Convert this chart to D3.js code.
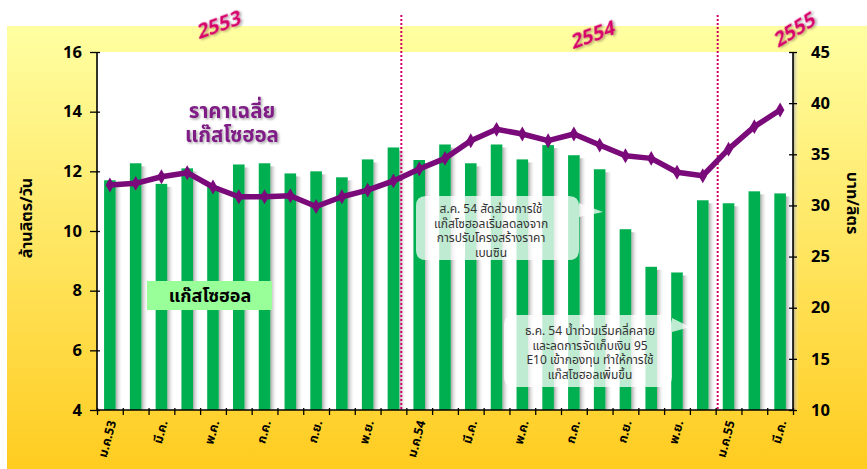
<!DOCTYPE html>
<html><head><meta charset="utf-8">
<script src="https://cdn.jsdelivr.net/npm/d3@7/dist/d3.min.js"></script>
<style>
html,body{margin:0;padding:0;background:#fff;}
svg{display:block;}
text{font-family:Tahoma,"Noto Sans Thai","Noto Sans","DejaVu Sans",sans-serif;}
</style></head>
<body>
<svg id="c" width="867" height="469"></svg>
<script>
// ---- data ----
const months = ["ม.ค.53","ก.พ.","มี.ค.","เม.ย.","พ.ค.","มิ.ย.","ก.ค.","ส.ค.","ก.ย.","ต.ค.","พ.ย.","ธ.ค.",
                "ม.ค.54","ก.พ.","มี.ค.","เม.ย.","พ.ค.","มิ.ย.","ก.ค.","ส.ค.","ก.ย.","ต.ค.","พ.ย.","ธ.ค.",
                "ม.ค.55","ก.พ.","มี.ค."];
const volume = [11.7,12.27,11.58,12.1,11.5,12.23,12.27,11.93,12.0,11.8,12.4,12.8,
                12.38,12.9,12.27,12.9,12.4,12.88,12.54,12.07,10.06,8.8,8.61,11.03,
                10.93,11.33,11.26];
const price = [32.0,32.16,32.8,33.2,31.8,30.85,30.85,30.95,29.9,30.85,31.5,32.4,
               33.56,34.6,36.33,37.44,36.98,36.33,36.98,35.9,34.86,34.6,33.24,32.9,
               35.5,37.7,39.33];
const leftTicks = [4,6,8,10,12,14,16];
const rightTicks = [10,15,20,25,30,35,40,45];
const years = ["2553","2554","2555"];
const yearStart = [0,12,24];
const note1 = ["ส.ค. 54 สัดส่วนการใช้","แก๊สโซฮอลเริ่มลดลงจาก","การปรับโครงสร้างราคา","เบนซิน"];
const note2 = ["ธ.ค. 54 น้ำท่วมเริ่มคลี่คลาย","และลดการจัดเก็บเงิน 95","E10 เข้ากองทุน ทำให้การใช้","แก๊สโซฮอลเพิ่มขึ้น"];
const priceTitle = ["ราคาเฉลี่ย","แก๊สโซฮอล"];
const barLegend = "แก๊สโซฮอล";
const leftTitle = "ล้านลิตร/วัน";
const rightTitle = "บาท/ลิตร";

// ---- layout ----
const L=97, R=793, T=52, B=410;
const svg = d3.select("#c");
const defs = svg.append("defs");
const bg = defs.append("linearGradient").attr("id","bg").attr("x1",0).attr("y1",0).attr("x2",0).attr("y2",1);
bg.append("stop").attr("offset","0%").attr("stop-color","#ffffa2");
bg.append("stop").attr("offset","100%").attr("stop-color","#ffcc20");
const sh = defs.append("linearGradient").attr("id","sh").attr("x1",0).attr("y1",0).attr("x2",1).attr("y2",0);
sh.append("stop").attr("offset","0%").attr("stop-color","#8a8a8a").attr("stop-opacity",0.75);
sh.append("stop").attr("offset","100%").attr("stop-color","#ffffff").attr("stop-opacity",0);
const ds = defs.append("filter").attr("id","ds").attr("x","-20%").attr("y","-20%").attr("width","140%").attr("height","140%");
ds.append("feDropShadow").attr("dx",1.5).attr("dy",1.5).attr("stdDeviation",0.8).attr("flood-color","#000").attr("flood-opacity",0.35);

svg.append("rect").attr("width",867).attr("height",469).attr("fill","#fff");
svg.append("rect").attr("x",7).attr("y",26).attr("width",860).attr("height",443).attr("fill","url(#bg)");
svg.append("rect").attr("x",L).attr("y",T).attr("width",R-L).attr("height",B-T).attr("fill","#fff");
svg.append("rect").attr("x",R).attr("y",T).attr("width",6).attr("height",B-T).attr("fill","url(#sh)");

const x = d3.scaleBand().domain(d3.range(months.length)).range([L,R]).paddingInner(0.55).paddingOuter(0.275);
const xi = d3.scaleLinear().domain([0,months.length]).range([L,R]);
const yL = d3.scaleLinear().domain([4,16]).range([B,T]);
const yR = d3.scaleLinear().domain([10,45]).range([B,T]);
const bw = x.bandwidth();

// bars with shadow
const gb = svg.append("g");
gb.selectAll("rect.s").data(volume).join("rect").attr("class","s")
  .attr("x",(d,i)=>x(i)+bw).attr("y",d=>yL(d)+3).attr("width",7).attr("height",d=>B-yL(d)-3)
  .attr("fill","url(#sh)");
gb.selectAll("rect.b").data(volume).join("rect").attr("class","b")
  .attr("x",(d,i)=>x(i)).attr("y",d=>yL(d)).attr("width",bw).attr("height",d=>B-yL(d))
  .attr("fill","#00b050");

// year dividers
[yearStart[1],yearStart[2]].forEach((k,j)=>{
  const xx = j===0 ? xi(k)-5 : xi(k)+2;
  svg.append("line").attr("x1",xx).attr("x2",xx).attr("y1",15).attr("y2",B)
    .attr("stroke","#cc0066").attr("stroke-width",2).attr("stroke-dasharray","2,2");
});

// callouts
function callout(x0,y0,w,h,py,tipx,tipy,lines,cx,ly){
  const r=10, p1=py, p2=py+14;
  const path = `M${x0+r},${y0} H${x0+w-r} Q${x0+w},${y0} ${x0+w},${y0+r} V${p1} L${tipx},${tipy} L${x0+w},${p2} V${y0+h-r} Q${x0+w},${y0+h} ${x0+w-r},${y0+h} H${x0+r} Q${x0},${y0+h} ${x0},${y0+h-r} V${y0+r} Q${x0},${y0} ${x0+r},${y0} Z`;
  svg.append("path").attr("d",path).attr("fill","#fff").attr("fill-opacity",0.75);
  svg.append("g").selectAll("text").data(lines).join("text")
    .attr("x",cx).attr("y",(d,i)=>ly+i*14.5).attr("text-anchor","middle")
    .attr("font-size",12).attr("fill","#333").text(d=>d);
}
callout(416,196,163,64,203,603,212,note1,491,213);
callout(504,315,168,72,318,690,327,note2,590,335);

// price line
const line = d3.line().x((d,i)=>x(i)+bw/2).y(d=>yR(d));
svg.append("path").datum(price).attr("d",line).attr("fill","none")
  .attr("stroke","#7a0a7a").attr("stroke-width",5.5).attr("stroke-linejoin","round");
svg.append("g").selectAll("path").data(price).join("path")
  .attr("d",d3.symbol(d3.symbolDiamond,64))
  .attr("transform",(d,i)=>`translate(${x(i)+bw/2},${yR(d)})`)
  .attr("fill","#7a0a7a");

// axes
const axL = svg.append("g").attr("transform",`translate(${L},0)`)
  .call(d3.axisLeft(yL).tickValues(leftTicks).tickSize(6).tickPadding(9));
const axR = svg.append("g").attr("transform",`translate(${R},0)`)
  .call(d3.axisRight(yR).tickValues(rightTicks).tickSize(4).tickPadding(14));
const axB = svg.append("g").attr("transform",`translate(0,${B})`)
  .call(d3.axisBottom(xi).tickValues(d3.range(months.length+1)).tickFormat("").tickSize(5));
[axL,axR,axB].forEach(g=>{
  g.select(".domain").attr("stroke","#000").attr("stroke-width",1.6);
  g.selectAll(".tick line").attr("stroke","#000").attr("stroke-width",1.3);
  g.selectAll(".tick text").attr("font-family","'DejaVu Sans',sans-serif").attr("font-weight","bold")
    .attr("font-size",16.5).attr("fill","#000");
});
axL.selectAll(".tick line").attr("x2",-7).attr("x1",3);
axR.selectAll(".tick line").attr("x1",-4).attr("x2",4);
axB.selectAll(".tick line").attr("y1",-2);
axL.select(".domain").attr("d",`M0,${B}V${T}`);
axR.select(".domain").attr("d",`M0,${B}V${T}`);
axB.select(".domain").attr("d",`M${L},0H${R}`);

// x labels
svg.append("g").selectAll("text").data(months.map((m,i)=>({m,i})).filter(d=>d.i%2===0)).join("text")
  .attr("transform",d=>`translate(${x(d.i)+bw/2+3},${B+11}) rotate(-75)`)
  .attr("text-anchor","end").attr("dominant-baseline","middle")
  .attr("font-size",12.5).attr("font-weight","bold").attr("fill","#000").text(d=>d.m);

// axis titles
svg.append("text").attr("transform","translate(32,218) rotate(-90)").attr("text-anchor","middle")
  .attr("font-size",16).attr("font-weight","bold").attr("fill","#000").text(leftTitle);
svg.append("text").attr("transform","translate(847,203) rotate(90)").attr("text-anchor","middle")
  .attr("font-size",16).attr("font-weight","bold").attr("fill","#000").text(rightTitle);

// years
const yearPos = [[218,26],[592,36],[794,31]];
years.forEach((y,i)=>{
  svg.append("text").attr("transform",`translate(${yearPos[i][0]},${yearPos[i][1]}) rotate(${i===2?-32:-20})`)
    .attr("text-anchor","middle").attr("dominant-baseline","middle")
    .attr("font-size",20).attr("font-weight","bold").attr("font-style","italic")
    .attr("fill","#d6006a").attr("filter","url(#ds)").text(y);
});

// price title
svg.append("g").selectAll("text").data(priceTitle).join("text")
  .attr("x",232).attr("y",(d,i)=>118+i*24).attr("text-anchor","middle")
  .attr("font-size",20.5).attr("font-weight","bold").attr("fill","#7f1f86").attr("filter","url(#ds)").text(d=>d);

// bar legend
svg.append("rect").attr("x",147).attr("y",281).attr("width",125).attr("height",29).attr("fill","#99ff99");
svg.append("text").attr("x",210).attr("y",302).attr("text-anchor","middle")
  .attr("font-size",18).attr("font-weight","bold").attr("fill","#000").text(barLegend);
</script>
</body></html>
